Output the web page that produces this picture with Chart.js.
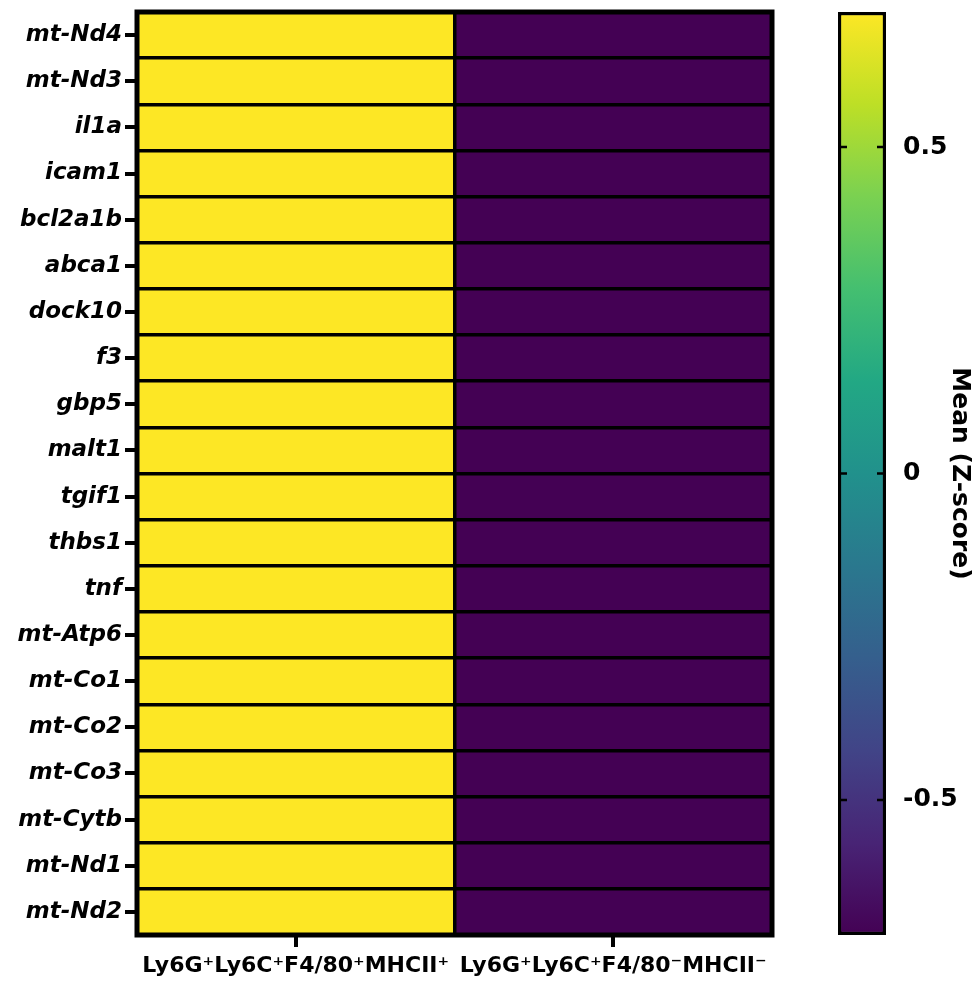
<!DOCTYPE html>
<html>
<head>
<meta charset="utf-8">
<script src="https://cdn.jsdelivr.net/npm/chart.js@4.4.1/dist/chart.umd.min.js"></script>
<style>
  html, body { margin: 0; padding: 0; background: #ffffff; }
  #wrap { position: relative; width: 978px; height: 982px; }
  #heat { position: absolute; left: 0; top: 0; }
  #bar { position: absolute; left: 800px; top: 0; }
</style>
</head>
<body>
<div id="wrap">
  <canvas id="heat" width="800" height="982"></canvas>
  <canvas id="bar" width="178" height="982"></canvas>
</div>
<script>
// ---- data ----
const genes = ["mt-Nd4","mt-Nd3","il1a","icam1","bcl2a1b","abca1","dock10","f3","gbp5","malt1",
               "tgif1","thbs1","tnf","mt-Atp6","mt-Co1","mt-Co2","mt-Co3","mt-Cytb","mt-Nd1","mt-Nd2"];
const columns = ["Ly6G\u207ALy6C\u207AF4/80\u207AMHCII\u207A", "Ly6G\u207ALy6C\u207AF4/80\u207BMHCII\u207B"];
const zLeft  = [0.707,0.707,0.707,0.707,0.707,0.707,0.707,0.707,0.707,0.707,
                0.707,0.707,0.707,0.707,0.707,0.707,0.707,0.707,0.707,0.707];
const zRight = [-0.707,-0.707,-0.707,-0.707,-0.707,-0.707,-0.707,-0.707,-0.707,-0.707,
                -0.707,-0.707,-0.707,-0.707,-0.707,-0.707,-0.707,-0.707,-0.707,-0.707];
const cellSpan = [1,1,1,1,1,1,1,1,1,1,1,1,1,1,1,1,1,1,1,1];
const colorMin = -0.707, colorMax = 0.707;
const colorTicks = [-0.5, 0, 0.5];
const colorTickLabels = ["-0.5", "0", "0.5"];
const colorTitle = "Mean (Z-score)";

// viridis stops
const viridis = ["#440154","#482475","#414487","#355f8d","#2a788e","#21918c",
                 "#22a884","#44bf70","#7ad151","#bddf26","#fde725"];

function hexToRgb(h){ return [parseInt(h.slice(1,3),16),parseInt(h.slice(3,5),16),parseInt(h.slice(5,7),16)]; }
function colorFor(v){
  let t = (v - colorMin) / (colorMax - colorMin);
  t = Math.max(0, Math.min(1, t));
  const p = t * (viridis.length - 1);
  const i = Math.min(Math.floor(p), viridis.length - 2);
  const f = p - i;
  const a = hexToRgb(viridis[i]), b = hexToRgb(viridis[i+1]);
  const c = a.map((x,k)=>Math.round(x + (b[k]-x)*f));
  return `rgb(${c[0]},${c[1]},${c[2]})`;
}

const FONT = "'DejaVu Sans', 'Liberation Sans', Arial, sans-serif";

const framePlugin = {
  id: 'frame',
  afterDraw(chart) {
    const {ctx, chartArea: a} = chart;
    ctx.save();
    ctx.strokeStyle = '#000';
    ctx.lineWidth = 5;
    ctx.strokeRect(a.left, a.top, a.right - a.left, a.bottom - a.top);
    ctx.restore();
  }
};

const cellGrid = { display: true, offset: true, drawOnChartArea: true, drawTicks: false,
                   lineWidth: 3.5, color: '#000', z: 1 };

new Chart(document.getElementById('heat'), {
  type: 'bar',
  data: {
    labels: genes,
    datasets: [
      { data: cellSpan, backgroundColor: zLeft.map(colorFor) },
      { data: cellSpan, backgroundColor: zRight.map(colorFor) }
    ]
  },
  options: {
    indexAxis: 'y',
    responsive: false,
    animation: false,
    devicePixelRatio: 1,
    layout: { padding: { top: 12, right: 28, left: 0, bottom: 0 } },
    datasets: { bar: { barPercentage: 1, categoryPercentage: 1, borderWidth: 0,
                        borderSkipped: false, inflateAmount: 0.5 } },
    plugins: { legend: { display: false }, tooltip: { enabled: false } },
    scales: {
      x: {
        stacked: true, min: 0, max: 2,
        afterBuildTicks: (s) => { s.ticks = columns.map((c,i)=>({value: i + 0.5})); },
        afterFit: (s) => { s.height = 47; s.paddingLeft = 0; s.paddingRight = 0; },
        ticks: {
          autoSkip: false, maxRotation: 0, color: '#000', padding: 6,
          font: { family: FONT, weight: 'bold', size: 22 },
          callback: (v, i) => columns[i]
        },
        grid: { display: true, drawOnChartArea: false, drawTicks: true, tickLength: 12,
                lineWidth: 4, color: '#000' },
        border: { display: false }
      },
      xCells: {
        type: 'category', labels: columns, position: 'bottom', offset: true,
        afterFit: (s) => { s.height = 0; s.paddingLeft = 0; s.paddingRight = 0; },
        ticks: { display: false },
        grid: cellGrid,
        border: { display: false }
      },
      y: {
        stacked: true,
        afterFit: (s) => { s.width = 137; s.paddingTop = 0; s.paddingBottom = 0; },
        ticks: {
          autoSkip: false, color: '#000', padding: 3,
          font: { family: FONT, weight: 'bold', style: 'italic', size: 23 }
        },
        grid: { display: true, offset: false, drawOnChartArea: false, drawTicks: true,
                tickLength: 12, lineWidth: 4, color: '#000' },
        border: { display: false }
      },
      yCells: {
        type: 'category', labels: genes, position: 'left', offset: true,
        afterFit: (s) => { s.width = 0; s.paddingTop = 0; s.paddingBottom = 0; },
        ticks: { display: false },
        grid: cellGrid,
        border: { display: false }
      }
    }
  },
  plugins: [framePlugin]
});

// ---- colour bar ----
const innerTicks = {
  id: 'innerTicks',
  afterDatasetsDraw(chart) {
    const {ctx, chartArea: a} = chart;
    const ys = chart.scales.y;
    ctx.save();
    ctx.strokeStyle = '#000';
    ctx.lineWidth = 2.5;
    colorTicks.forEach(v => {
      const y = ys.getPixelForValue(v);
      ctx.beginPath();
      ctx.moveTo(a.left, y); ctx.lineTo(a.left + 9, y);
      ctx.moveTo(a.right, y); ctx.lineTo(a.right - 9, y);
      ctx.stroke();
    });
    ctx.restore();
  }
};

new Chart(document.getElementById('bar'), {
  type: 'bar',
  data: {
    labels: [''],
    datasets: [{
      data: [[colorMin, colorMax]],
      backgroundColor: (c) => {
        const a = c.chart.chartArea;
        if (!a) return viridis[5];
        const g = c.chart.ctx.createLinearGradient(0, a.bottom, 0, a.top);
        viridis.forEach((col, i) => g.addColorStop(i / (viridis.length - 1), col));
        return g;
      },
      borderColor: '#000', borderWidth: 3.5, borderSkipped: false,
      barPercentage: 1, categoryPercentage: 1
    }]
  },
  options: {
    responsive: false,
    animation: false,
    devicePixelRatio: 1,
    layout: { padding: { top: 12, left: 38, bottom: 47, right: 0 } },
    plugins: { legend: { display: false }, tooltip: { enabled: false } },
    scales: {
      x: { display: false },
      y: {
        position: 'right', min: colorMin, max: colorMax,
        afterBuildTicks: (s) => { s.ticks = colorTicks.map(v => ({value: v})); },
        afterFit: (s) => { s.width = 92; s.paddingTop = 0; s.paddingBottom = 0; },
        ticks: {
          color: '#000', padding: 17,
          font: { family: FONT, weight: 'bold', size: 25 },
          callback: (v) => colorTickLabels[colorTicks.indexOf(v)]
        },
        grid: { display: false, drawTicks: false },
        border: { display: false },
        title: {
          display: true, text: colorTitle, color: '#000',
          font: { family: FONT, weight: 'bold', size: 25 },
          padding: { top: 4, bottom: 0 }
        }
      }
    }
  },
  plugins: [innerTicks]
});
</script>
</body>
</html>
